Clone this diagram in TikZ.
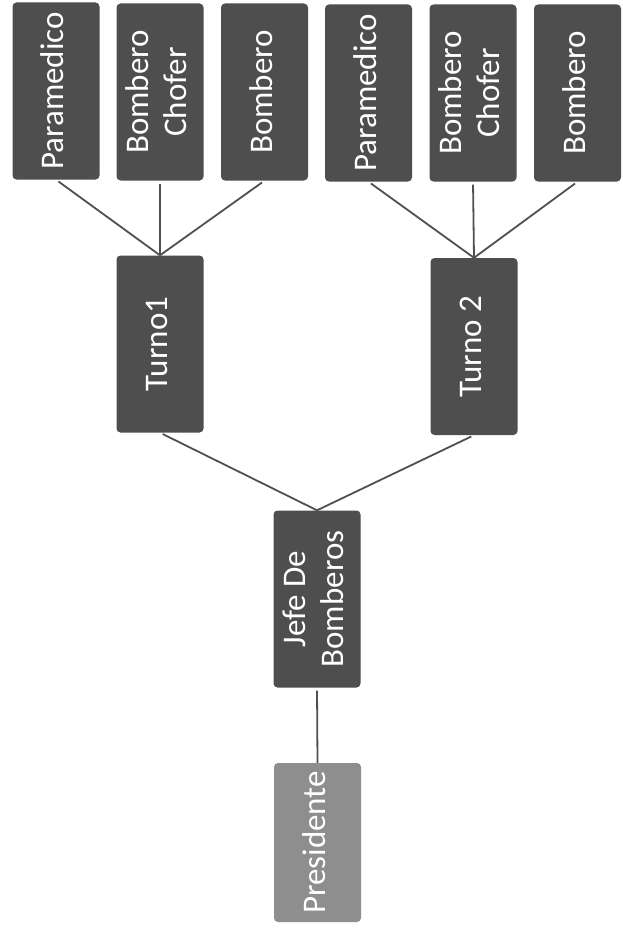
\documentclass[tikz,border=0pt]{standalone}
\usepackage{fontspec}
\setmainfont{Carlito}
\usepackage{graphicx}
\definecolor{boxdark}{HTML}{4E4E4E}
\definecolor{boxlight}{HTML}{8E8E8E}
\definecolor{linegray}{HTML}{505050}
\newcommand{\rt}[1]{\rotatebox{90}{\begin{tabular}{@{}c@{}}#1\end{tabular}}}
\tikzset{
  box/.style={draw=none, fill=boxdark, rounded corners=4pt, minimum width=87pt,
    minimum height=177pt, inner sep=0pt, text=white,
    font=\fontsize{33}{38}\selectfont},
  presbox/.style={box, fill=boxlight, minimum height=159pt},
  conn/.style={draw=linegray, line width=1.8pt, shorten <=3pt}
}
\begin{document}
\begin{tikzpicture}[x=1pt,y=-1pt]
\fill[white] (0,0) rectangle (623,947);
\useasboundingbox (0,0) rectangle (623,947);
% top row
\node[box] (p1) at (56,91) {\rt{Paramedico}};
\node[box] (c1) at (160,92) {\rt{Bombero\\Chofer}};
\node[box] (b1) at (264.5,92) {\rt{Bombero}};
\node[box] (p2) at (368.5,93) {\rt{Paramedico}};
\node[box] (c2) at (473,93) {\rt{Bombero\\Chofer}};
\node[box] (b2) at (577.5,93) {\rt{Bombero}};
% turns
\node[box] (t1) at (160,344) {\rt{Turno1}};
\node[box] (t2) at (474,346.5) {\rt{Turno 2}};
% chief
\node[box] (j) at (317,599) {\rt{Jefe De\\Bomberos}};
\node[presbox] (pr) at (317.5,842.5) {\rt{Presidente}};
% connectors
\draw[conn] (p1.south) -- (t1.north);
\draw[conn] (c1.south) -- (t1.north);
\draw[conn] (b1.south) -- (t1.north);
\draw[conn] (p2.south) -- (t2.north);
\draw[conn] (c2.south) -- (t2.north);
\draw[conn] (b2.south) -- (t2.north);
\draw[conn] (t1.south) -- (j.north);
\draw[conn] (t2.south) -- (j.north);
\draw[conn] (j.south) -- (pr.north);
\end{tikzpicture}
\end{document}
